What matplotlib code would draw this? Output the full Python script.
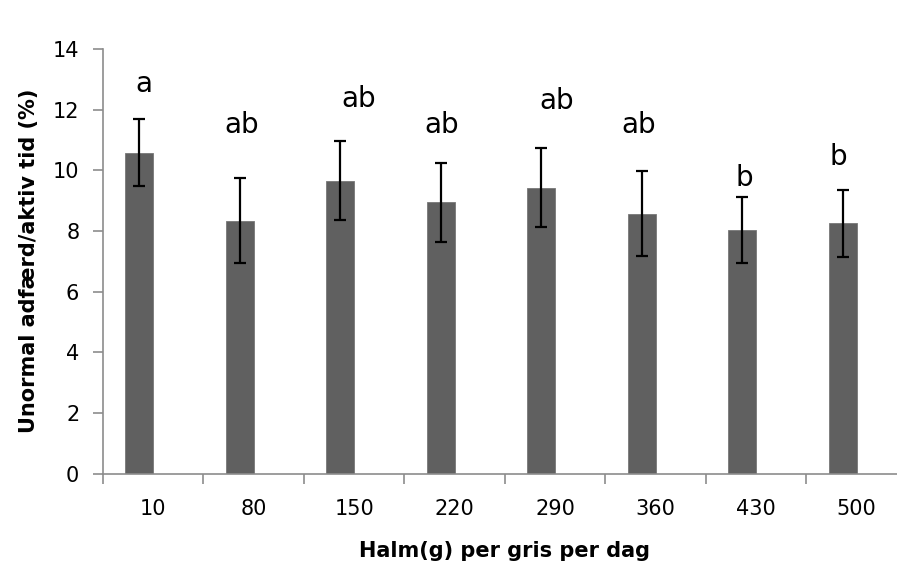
import matplotlib
matplotlib.use("Agg")
import matplotlib.pyplot as plt
import numpy as np

# data
halm = ["10", "80", "150", "220", "290", "360", "430", "500"]
mean_pct = [10.58, 8.34, 9.66, 8.94, 9.43, 8.57, 8.03, 8.25]
err_pct = [1.10, 1.40, 1.31, 1.30, 1.30, 1.40, 1.10, 1.10]
letters = ["a", "ab", "ab", "ab", "ab", "ab", "b", "b"]

# where the significance letters sit (data units)
letter_y = [12.85, 11.5, 12.35, 11.5, 12.3, 11.5, 9.75, 10.45]
letter_dx = [0.05, 0.02, 0.18, 0.01, 0.15, -0.03, 0.02, -0.04]

plt.rcParams['font.family'] = ['DejaVu Sans']

fig = plt.figure(figsize=(8.97, 5.84), dpi=100)
ax = fig.add_axes([0.1148, 0.1892, 0.8963, 0.7269])

x = np.arange(len(halm))
bw = 0.28
bx = x - bw / 2
ax.bar(bx, mean_pct, width=bw, color="#606060", edgecolor="#777777", linewidth=0.6, zorder=2)
ax.errorbar(bx, mean_pct, yerr=err_pct, fmt="none", ecolor="black",
            elinewidth=1.6, capsize=4.5, capthick=1.6, zorder=3)

for i, t in enumerate(letters):
    ax.text(bx[i] + letter_dx[i], letter_y[i], t, ha="center", va="center", fontsize=20)

ax.set_xlim(-0.5, len(halm) - 0.5)
ax.set_ylim(0, 14)
ax.set_yticks(range(0, 15, 2))
ax.set_xticks(x)
ax.set_xticklabels(halm)
ax.set_xticks(np.append(x - 0.5, x[-1] + 0.5), minor=True)

for s in ["top", "right"]:
    ax.spines[s].set_visible(False)
for s in ["left", "bottom"]:
    ax.spines[s].set_color("#8c8c8c")
    ax.spines[s].set_linewidth(1.2)

ax.tick_params(axis="y", direction="out", length=7, width=1.2, color="#8c8c8c",
               labelsize=15, pad=10)
ax.tick_params(axis="x", which="major", length=0, labelsize=15, pad=18)
ax.tick_params(axis="x", which="minor", direction="out", length=7, width=1.2, color="#8c8c8c")

ax.set_xlabel("Halm(g) per gris per dag", fontsize=15, fontweight="bold", labelpad=16)
ax.set_ylabel("Unormal adfærd/aktiv tid (%)", fontsize=15, fontweight="bold", labelpad=10)

fig.savefig("out.png", dpi=100)
